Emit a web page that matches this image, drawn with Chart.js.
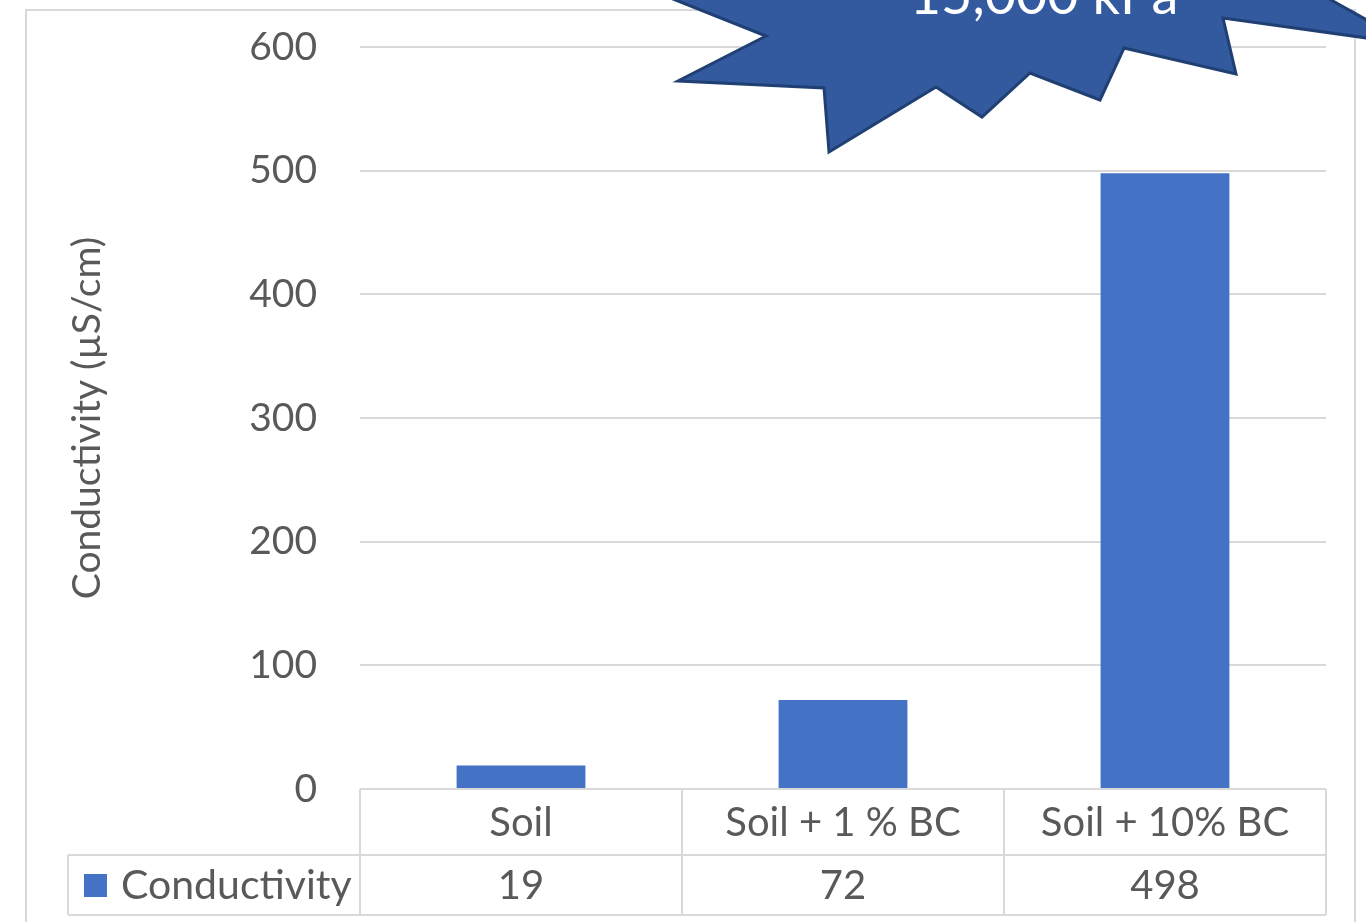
<!DOCTYPE html>
<html>
<head>
<meta charset="utf-8">
<title>Conductivity</title>
<script src="https://cdn.jsdelivr.net/npm/chart.js@4.4.1/dist/chart.umd.min.js"></script>
<style>
  html, body { margin: 0; padding: 0; background: #ffffff; }
  #wrap { width: 1366px; height: 922px; position: relative; }
</style>
</head>
<body>
<div id="wrap"><canvas id="chart" width="1366" height="922"></canvas></div>
<script>
// Chart data
const categories = ['Soil', 'Soil + 1 % BC', 'Soil + 10% BC'];
const conductivity = [19, 72, 498];
const seriesName = 'Conductivity';
const axisTitle = 'Conductivity (µS/cm)';
const yMin = 0;
const yMax = 600;
const yStep = 100;
const calloutText = '-15,000 kPa';

const FONT = 'Lato, "Open Sans", sans-serif';
const TEXT = '#595959';
const GRID = '#d9d9d9';
const BAR = '#4472c4';

// Frame, data table under the axis, and the star callout
const extras = {
  id: 'extras',
  beforeDraw(chart) {
    const ctx = chart.ctx;
    ctx.save();
    ctx.strokeStyle = GRID;
    ctx.lineWidth = 2;
    ctx.beginPath();
    ctx.moveTo(26, 930);
    ctx.lineTo(26, 10);
    ctx.lineTo(1355, 10);
    ctx.lineTo(1355, 930);
    ctx.stroke();
    ctx.restore();
  },
  afterDraw(chart) {
    const ctx = chart.ctx;
    const area = chart.chartArea;
    const x = chart.scales.x;
    const meta = chart.getDatasetMeta(0);
    const n = categories.length;
    const half = (x.getPixelForValue(1) - x.getPixelForValue(0)) / 2;
    const top = area.bottom;
    const mid = top + 66;
    const bot = mid + 60;
    const keyLeft = 68;

    ctx.save();
    ctx.strokeStyle = GRID;
    ctx.lineWidth = 2;
    ctx.beginPath();
    ctx.moveTo(area.left, top); ctx.lineTo(area.right, top);
    ctx.moveTo(keyLeft, mid); ctx.lineTo(area.right, mid);
    ctx.moveTo(keyLeft, bot); ctx.lineTo(area.right, bot);
    ctx.moveTo(keyLeft, mid); ctx.lineTo(keyLeft, bot);
    for (let i = 0; i < n; i++) {
      const l = x.getPixelForValue(i) - half;
      ctx.moveTo(l, top); ctx.lineTo(l, bot);
    }
    ctx.moveTo(area.right, top); ctx.lineTo(area.right, bot);
    ctx.stroke();

    ctx.fillStyle = TEXT;
    ctx.font = '40px ' + FONT;
    ctx.textAlign = 'center';
    ctx.textBaseline = 'middle';
    for (let i = 0; i < n; i++) {
      const cx = meta.data[i].x;
      ctx.fillText(categories[i], cx, top + 34);
      ctx.fillText(String(conductivity[i]), cx, mid + 31);
    }
    ctx.fillStyle = BAR;
    ctx.fillRect(84, mid + 19, 23, 23);
    ctx.fillStyle = TEXT;
    ctx.textAlign = 'left';
    ctx.font = '41px ' + FONT;
    ctx.fillText(seriesName, 121, mid + 31);

    // star callout
    const pts = [[600, -30], [766, 36], [678, 81], [824, 88], [829, 152], [936, 87],
                 [982, 117], [1030, 73], [1100, 100], [1124, 48], [1236, 74], [1223, 18],
                 [1410, 44], [1331, 0], [1290, -30]];
    ctx.beginPath();
    pts.forEach((p, i) => i ? ctx.lineTo(p[0], p[1]) : ctx.moveTo(p[0], p[1]));
    ctx.closePath();
    ctx.fillStyle = '#335a9e';
    ctx.fill();
    ctx.strokeStyle = '#203f72';
    ctx.lineWidth = 3;
    ctx.lineJoin = 'miter';
    ctx.stroke();
    ctx.fillStyle = '#ffffff';
    ctx.font = '54px ' + FONT;
    ctx.textAlign = 'center';
    ctx.textBaseline = 'alphabetic';
    ctx.fillText(calloutText, 1034, 14);
    ctx.restore();
  }
};

new Chart(document.getElementById('chart'), {
  type: 'bar',
  data: {
    labels: categories,
    datasets: [{
      label: seriesName,
      data: conductivity,
      backgroundColor: BAR,
      borderWidth: 0,
      barPercentage: 0.4,
      categoryPercentage: 1.0
    }]
  },
  options: {
    responsive: false,
    animation: false,
    devicePixelRatio: 1,
    layout: { padding: { left: 0, right: 40, top: 47, bottom: 0 } },
    plugins: { legend: { display: false }, tooltip: { enabled: false } },
    scales: {
      x: {
        display: true,
        grid: { display: false },
        border: { display: false },
        ticks: { display: false },
        afterFit(s) { s.height = 133; }
      },
      y: {
        min: yMin,
        max: yMax,
        ticks: {
          stepSize: yStep,
          color: TEXT,
          font: { family: FONT, size: 39 },
          padding: 43
        },
        grid: { color: GRID, lineWidth: 2, drawTicks: false },
        border: { display: false },
        title: {
          display: true,
          text: axisTitle,
          color: TEXT,
          font: { family: FONT, size: 39 },
          padding: { top: 64, bottom: 0 }
        },
        afterFit(s) {
          s.width = 360;
          s.paddingTop = 0;
          s.paddingBottom = 0;
        }
      }
    }
  },
  plugins: [extras]
});
</script>
</body>
</html>
